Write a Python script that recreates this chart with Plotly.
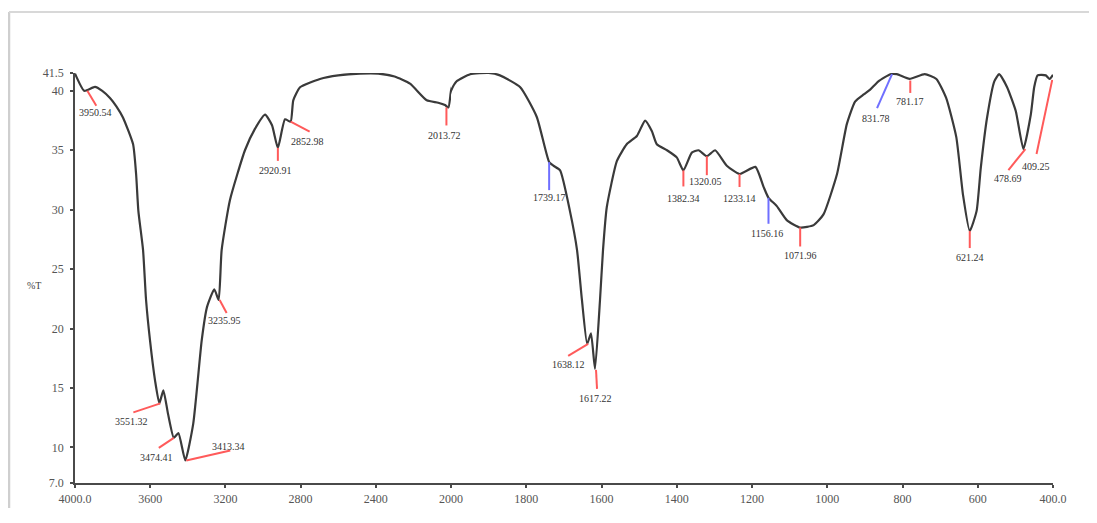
import plotly.graph_objects as go

# ---- data ----
wavenumber = [4000, 3950.54, 3894, 3855, 3814, 3780, 3745, 3691, 3675, 3663, 3638, 3622,
              3601, 3574, 3551.32, 3530, 3505, 3474.41, 3450, 3413.34, 3371, 3326, 3298,
              3259, 3236, 3220, 3176, 3096, 3043, 2989, 2952, 2920.91, 2883, 2852.98,
              2839, 2803, 2697, 2600, 2484, 2387, 2300, 2218, 2129, 2068, 2032, 2013.72,
              2000, 1985, 1949, 1900, 1870, 1816, 1772, 1739.17, 1728, 1710, 1684, 1665,
              1652, 1638.12, 1628, 1617.22, 1604, 1596, 1586, 1559, 1533, 1506, 1484,
              1466, 1453, 1426, 1400, 1382.34, 1360, 1342, 1320.05, 1298, 1267, 1233.14,
              1191, 1169, 1156.16, 1134, 1107, 1071.96, 1036, 1010, 974, 948, 926, 903,
              886, 864, 831.78, 815, 781.17, 741, 710, 684, 657, 639, 621.24, 603, 592,
              575, 556, 543, 522, 499, 478.69, 459, 450, 441, 419, 409.25, 400]
transmittance = [41.45, 40.0, 40.33, 40.0, 39.4, 38.7, 37.76, 35.5, 33.0, 29.9, 26.6, 22.4,
                 19.0, 15.6, 13.7, 14.8, 12.8, 10.8, 11.2, 8.9, 12.0, 19.0, 21.8,
                 23.3, 22.4, 26.6, 30.8, 35.0, 36.8, 38.0, 37.1, 35.2, 37.6, 37.4,
                 39.2, 40.3, 41.0, 41.3, 41.45, 41.45, 41.2, 40.6, 39.2, 39.0, 38.8, 38.6,
                 40.0, 40.8, 41.4, 41.5, 41.3, 40.3, 37.8, 34.0, 33.7, 33.3, 29.9, 26.6,
                 22.4, 18.7, 19.6, 16.6, 22.4, 26.6, 30.2, 34.1, 35.5, 36.2, 37.5,
                 36.6, 35.5, 35.0, 34.4, 33.3, 34.8, 35.0, 34.5, 35.0, 33.7, 33.0,
                 33.6, 31.9, 31.0, 30.3, 29.1, 28.5, 28.7, 29.6, 33.0, 37.2, 39.1, 39.7,
                 40.1, 40.8, 41.4, 41.4, 41.0, 41.4, 41.0, 39.4, 36.1, 31.2, 28.2, 29.9, 33.5,
                 37.8, 40.8, 41.4, 40.3, 38.3, 35.1, 38.0, 40.3, 41.3, 41.3, 41.0, 41.35]

peak_wn = [3950.54, 3551.32, 3474.41, 3413.34, 3235.95, 2920.91, 2852.98, 2013.72,
           1739.17, 1638.12, 1617.22, 1382.34, 1320.05, 1233.14, 1156.16, 1071.96,
           831.78, 781.17, 621.24, 478.69, 409.25]
peak_t = [40.0, 13.7, 10.8, 8.9, 22.4, 35.2, 37.4, 38.6,
          34.0, 18.7, 16.6, 33.3, 34.5, 33.0, 31.0, 28.5,
          41.4, 41.0, 28.2, 35.1, 41.0]
peak_labels = ["3950.54", "3551.32", "3474.41", "3413.34", "3235.95", "2920.91", "2852.98",
               "2013.72", "1739.17", "1638.12", "1617.22", "1382.34", "1320.05", "1233.14",
               "1156.16", "1071.96", "831.78", "781.17", "621.24", "478.69", "409.25"]
peak_blue = ["1739.17", "1156.16", "831.78"]

x_ticks_hi = [4000, 3600, 3200, 2800, 2400]
x_ticktext_hi = ["4000.0", "3600", "3200", "2800", "2400"]
x_ticks_lo = [2000, 1800, 1600, 1400, 1200, 1000, 800, 600, 400]
x_ticktext_lo = ["2000", "1800", "1600", "1400", "1200", "1000", "800", "600", "400.0"]
y_ticks = [7, 10, 15, 20, 25, 30, 35, 40, 41.5]
y_ticktext = ["7.0", "10", "15", "20", "25", "30", "35", "40", "41.5"]

# ---- styling: offsets (screen pixels, down positive) of leader line and label ----
line_off = {
    "3950.54": (3, 0, 12, 15), "3551.32": (1, 0, -26, 9), "3474.41": (0, 0, -15, 10),
    "3413.34": (1, 0, 45, -10), "3235.95": (1, 0, 8, 13), "2920.91": (0, 0, 0, 13),
    "2852.98": (0, 0, 19, 10), "2013.72": (-2, 0, -2, 18), "1739.17": (0, 0, 0, 28),
    "1638.12": (1, 0, -19, 12), "1617.22": (1, 1, 2, 20), "1382.34": (0, 0, 0, 16),
    "1320.05": (0, 0, 0, 19), "1233.14": (0, 0, 0, 13), "1156.16": (0, 0, 0, 26),
    "1071.96": (0, 0, 0, 19), "831.78": (1.5, 0, -13.5, 34), "781.17": (0.7, 1.6, 0.7, 14),
    "621.24": (0, 0, 0, 17), "478.69": (2, 0, -15, 21), "409.25": (2.7, 1, -13, 75),
}
label_off = {
    "3950.54": (11, 22), "3551.32": (-28, 18), "3474.41": (-17, 20), "3413.34": (43, -14),
    "3235.95": (6, 21), "2920.91": (-2, 23), "2852.98": (17, 20), "2013.72": (-3.5, 28),
    "1739.17": (0, 35), "1638.12": (-19, 21), "1617.22": (0, 30), "1382.34": (0, 28),
    "1320.05": (-1, 25), "1233.14": (0, 24), "1156.16": (-1.6, 36), "1071.96": (0, 28),
    "831.78": (-14.5, 44), "781.17": (0.7, 23), "621.24": (0, 26), "478.69": (-15, 29),
    "409.25": (-14, 88),
}

SERIF = "Liberation Serif, Times New Roman, serif"
CURVE = "#3a3a3a"
AXIS = "#4a4a4a"

fig = go.Figure()
for xa in ["x", "x2"]:
    fig.add_trace(go.Scatter(x=wavenumber, y=transmittance, mode="lines",
                             line=dict(color=CURVE, width=2.2, shape="spline", smoothing=0.5),
                             xaxis=xa, yaxis="y", showlegend=False, hoverinfo="skip"))

split = 376 / 978
common_x = dict(showgrid=False, zeroline=False, showline=True, linecolor=AXIS, linewidth=2.2,
                ticks="outside", ticklen=3, tickwidth=1.5, tickcolor=AXIS, automargin=False,
                tickfont=dict(family=SERIF, size=12, color="#555"), ticklabelstandoff=0)
# page body has an 8px margin, so the figure is placed to end at the window's right edge
fig.update_layout(
    width=1089, height=500,
    margin=dict(l=67, r=44, t=65, b=25),
    paper_bgcolor="white", plot_bgcolor="white",
    xaxis=dict(domain=[0, split], range=[4000, 2000], tickvals=x_ticks_hi,
               ticktext=x_ticktext_hi, anchor="y", **common_x),
    xaxis2=dict(domain=[split, 1], range=[2000, 400], tickvals=x_ticks_lo,
                ticktext=x_ticktext_lo, anchor="y", **common_x),
    yaxis=dict(range=[7, 41.5], tickvals=y_ticks, ticktext=y_ticktext, showgrid=False,
               zeroline=False, showline=True, linecolor=AXIS, linewidth=1.8, automargin=False,
               ticks="outside", ticklen=3, tickwidth=1.5, tickcolor=AXIS,
               tickfont=dict(family=SERIF, size=12, color="#555"), ticklabelstandoff=4),
    showlegend=False,
)

shapes = []
annotations = []
for wn, t, lab in zip(peak_wn, peak_t, peak_labels):
    xr = "x" if wn >= 2000 else "x2"
    col = "#6f6fff" if lab in peak_blue else "#ff5a5a"
    dx0, dy0, dx1, dy1 = line_off[lab]
    shapes.append(dict(type="line", xref=xr, yref="y", xsizemode="pixel", ysizemode="pixel",
                       xanchor=wn, yanchor=t, x0=dx0, x1=dx1, y0=-dy0, y1=-dy1,
                       line=dict(color=col, width=2)))
    lx, ly = label_off[lab]
    annotations.append(dict(x=wn, y=t, xref=xr, yref="y", text=lab, showarrow=False,
                            xshift=lx, yshift=-ly, xanchor="center", yanchor="middle",
                            font=dict(family=SERIF, size=10, color="#333")))

annotations.append(dict(x=(34 - 75) / 978, y=(483 - 285) / 410, xref="paper", yref="paper",
                        text="%T", showarrow=False, xanchor="center", yanchor="middle",
                        font=dict(family=SERIF, size=10, color="#444")))

# light frame around the image
shapes.append(dict(type="line", xref="paper", yref="paper", x0=(9 - 75) / 978, x1=(9 - 75) / 978,
                   y0=(483 - 530) / 410, y1=(483 - 12) / 410, line=dict(color="#cfcfcf", width=2.5)))
shapes.append(dict(type="line", xref="paper", yref="paper", x0=(9 - 75) / 978, x1=(1100 - 75) / 978,
                   y0=(483 - 12) / 410, y1=(483 - 12) / 410, line=dict(color="#d8d8d8", width=2)))

fig.update_layout(shapes=shapes, annotations=annotations)
fig.write_html("out.html")
